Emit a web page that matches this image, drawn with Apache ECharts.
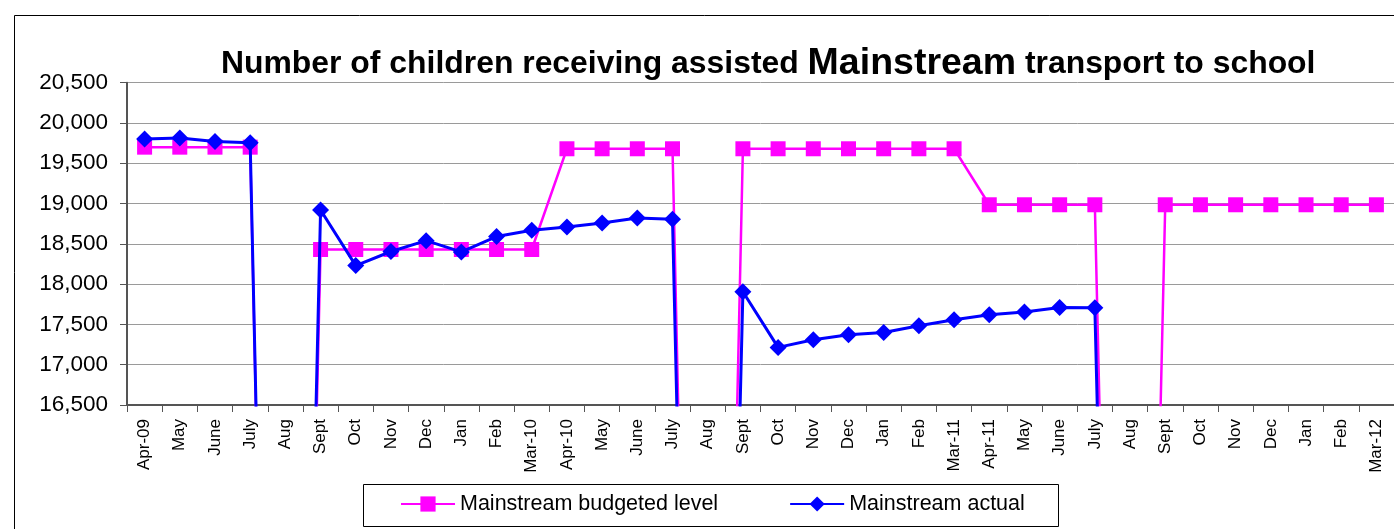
<!DOCTYPE html>
<html>
<head>
<meta charset="utf-8">
<script src="https://cdn.jsdelivr.net/npm/echarts@6/dist/echarts.min.js"></script>
<style>
  html, body { margin: 0; padding: 0; background: #fff; }
  #chart { width: 1394px; height: 529px; }
</style>
</head>
<body>
<div id="chart"></div>
<script>
// Months from April 2009 to March 2012
const months = [
  'Apr-09','May','June','July','Aug','Sept','Oct','Nov','Dec','Jan','Feb','Mar-10',
  'Apr-10','May','June','July','Aug','Sept','Oct','Nov','Dec','Jan','Feb','Mar-11',
  'Apr-11','May','June','July','Aug','Sept','Oct','Nov','Dec','Jan','Feb','Mar-12'
];

// Budgeted number of children (August has no school transport, recorded as 0)
const budgeted = [
  19700, 19700, 19700, 19700, 0, 18430, 18430, 18430, 18430, 18430, 18430, 18430,
  19680, 19680, 19680, 19680, 0, 19680, 19680, 19680, 19680, 19680, 19680, 19680,
  18985, 18985, 18985, 18985, 0, 18985, 18985, 18985, 18985, 18985, 18985, 18985
];

// Actual number of children transported
const actual = [
  19800, 19815, 19770, 19755, 0, 18920, 18230, 18405, 18540, 18400, 18590, 18670,
  18710, 18760, 18820, 18805, 0, 17905, 17215, 17310, 17372, 17400, 17483, 17558,
  17620, 17653, 17710, 17708, 0, null, null, null, null, null, null, null
];

const seriesNames = ['Mainstream budgeted level', 'Mainstream actual'];
const yTicks = { min: 16500, max: 20500, step: 500 };

const FONT = '"Liberation Sans", Arial, sans-serif';

const chart = echarts.init(document.getElementById('chart'), null, { renderer: 'canvas' });

chart.setOption({
  animation: false,
  backgroundColor: '#ffffff',
  title: {
    left: 216,
    top: 40,
    text: '{a|Number of children receiving assisted }{b|Mainstream}{a| transport to school}',
    textStyle: {
      fontFamily: FONT,
      rich: {
        a: { fontFamily: FONT, fontSize: 31.9, fontWeight: 'bold', color: '#000' },
        b: { fontFamily: FONT, fontSize: 37.5, fontWeight: 'bold', color: '#000' }
      }
    }
  },
  graphic: [
    {
      type: 'rect', silent: true, z: -1,
      shape: { x: 14.5, y: 15.5, width: 1400, height: 600 },
      style: { fill: 'none', stroke: '#000', lineWidth: 1 }
    },
    {
      type: 'rect', silent: true,
      shape: { x: 363.5, y: 484.5, width: 695, height: 42 },
      style: { fill: '#fff', stroke: '#000', lineWidth: 1 }
    }
  ],
  legend: {
    left: 400,
    top: 493,
    z: 10,
    itemWidth: 54,
    itemHeight: 19,
    itemGap: 71,
    padding: 0,
    textStyle: { fontFamily: FONT, fontSize: 21.5, color: '#000' },
    data: seriesNames
  },
  grid: { left: 127, right: 0, top: 82.7, bottom: 124 },
  xAxis: {
    type: 'category',
    data: months,
    boundaryGap: true,
    axisLine: { lineStyle: { color: '#555', width: 2 } },
    axisTick: { show: true, length: 7, lineStyle: { color: '#555', width: 1 } },
    axisLabel: {
      interval: 0, rotate: 90, margin: 14,
      fontFamily: FONT, fontSize: 17, color: '#000'
    },
    splitLine: { show: false }
  },
  yAxis: {
    type: 'value',
    min: yTicks.min, max: yTicks.max, interval: yTicks.step,
    axisLine: { show: true, lineStyle: { color: '#555', width: 2 } },
    axisTick: { show: true, length: 7, lineStyle: { color: '#555', width: 1 } },
    axisLabel: {
      margin: 19, fontFamily: FONT, fontSize: 22.5, color: '#000',
      formatter: v => v.toLocaleString('en-US')
    },
    splitLine: { lineStyle: { color: '#9a9a9a', width: 1 } }
  },
  series: [
    {
      name: seriesNames[0],
      type: 'line',
      data: budgeted,
      connectNulls: false,
      symbol: 'rect',
      symbolSize: 15,
      color: '#ff00ff',
      lineStyle: { color: '#ff00ff', width: 2.5 },
      itemStyle: { color: '#ff00ff' },
      z: 2
    },
    {
      name: seriesNames[1],
      type: 'line',
      data: actual,
      connectNulls: false,
      symbol: 'diamond',
      symbolSize: 17,
      color: '#0000ff',
      lineStyle: { color: '#0000ff', width: 3 },
      itemStyle: { color: '#0000ff' },
      z: 3
    }
  ]
});
</script>
</body>
</html>
